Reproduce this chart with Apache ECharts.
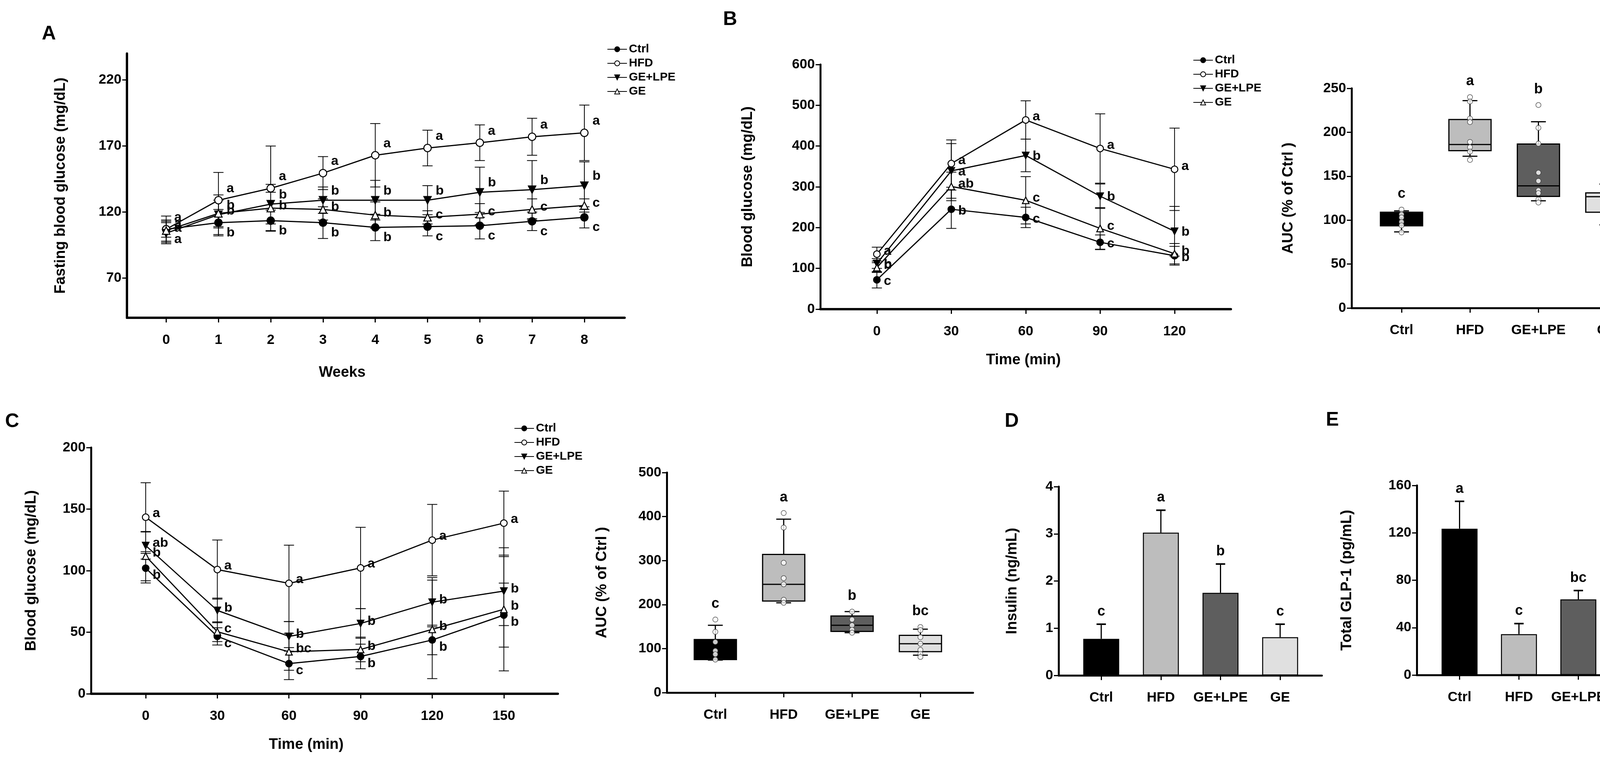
<!DOCTYPE html>
<html><head><meta charset="utf-8">
<script src="https://cdn.jsdelivr.net/npm/echarts@6/dist/echarts.min.js"></script>
<style>html,body{margin:0;padding:0;background:#fff}#c{width:4321px;height:1947px}</style>
</head><body><div id="c"></div>
<script>
// ---------- DATA ----------
const groups = ['Ctrl','HFD','GE+LPE','GE'];
// Panel A: fasting blood glucose by week
const weeks = [0,1,2,3,4,5,6,7,8];
const A_ctrl  = [107,112,113.5,112,108.4,109,109.7,113,116];
const A_ctrlE = [6,10,8,12,10,7,10,7,8];
const A_hfd   = [107,129,138,149.5,163,168.5,172.5,177,180];
const A_hfdE  = [10,21,32,12.5,24,13.5,13.5,14,21];
const A_gelpe = [104,118,126,129,129,129,135,137,140];
const A_gelpeE= [8,15,15,10,15,11,19,22,18];
const A_ge    = [106,119,123,122,117.7,116,118.4,122,125];
const A_geE   = [8,10,12,8,10,5,8,8,5];
const A_ctrlL = ['a','b','b','b','b','c','c','c','c'];
const A_hfdL  = ['a','a','a','a','a','a','a','a','a'];
const A_gelpeL= ['a','b','b','b','b','b','b','b','b'];
const A_geL   = ['a','b','b','b','b','c','c','c','c'];
const A_yTicks = [70,120,170,220];
// Panel B: OGTT
const B_time = [0,30,60,90,120];
const B_ctrl  = [72,245,225,164,131];
const B_ctrlE = [20,47,25,18,23];
const B_hfd   = [135,357,464,394,343];
const B_hfdE  = [17,58,47,85,101];
const B_gelpe = [112,339,377,277,191];
const B_gelpeE= [12,67,40,30,61];
const B_ge    = [102,301,267,198,136];
const B_geE   = [12,35,58,51,25];
const B_ctrlL = ['c','b','c','c','b'];
const B_hfdL  = ['a','a','a','a','a'];
const B_gelpeL= ['b','a','b','b','b'];
const B_geL   = ['b','ab','c','c','b'];
// Panel B AUC box plot
const B_q1  = [93.5,179,127,109];
const B_med = [100,186,139,126.7];
const B_q3  = [109,214.5,186.6,131];
const B_lo  = [86.6,172.7,122,94.6];
const B_hi  = [110.5,236,212,141];
const B_pts = [[112,106.5,103,98,94,86],[240,235,215.6,211.6,189,183,178,168.5],[231,205,187,154,144.6,134,130.7,123.6,120],[146.6,136.6,131.5,123.6,109,102.6,87]];
const B_boxL = ['c','a','b','c'];
// Panel C: ITT
const C_time = [0,30,60,90,120,150];
const C_ctrl  = [102,46.6,24.5,30.3,43.7,63.9];
const C_ctrlE = [12,7,13,10,12,26];
const C_hfd   = [143.4,100.9,89.7,102.2,124.8,138.6];
const C_hfdE  = [28,24,31,33,29,26];
const C_gelpe = [120.4,67.7,46.6,57.1,74.4,83.4];
const C_gelpeE= [11,10,12,12,20,28];
const C_ge    = [111.8,50.4,34.1,36,52.3,68.6];
const C_geE   = [20,8,15,10,40,50];
const C_ctrlL = ['b','c','c','b','b','b'];
const C_hfdL  = ['a','a','a','a','a','a'];
const C_gelpeL= ['ab','b','b','b','b','b'];
const C_geL   = ['b','c','bc','b','b','b'];
// Panel C AUC box plot
const C_q1  = [75,208,139,93];
const C_med = [100,246,153,111];
const C_q3  = [120.6,314,174,130];
const C_lo  = [74,204,136,85];
const C_hi  = [153,394,184,144];
const C_pts = [[166,138,115,95,87,75],[408,375,295,260,246,211,204],[184,166,153,143,136],[149,142,126,111,97,88,81]];
const C_boxL = ['c','a','b','bc'];
// Panel D: insulin
const D_val = [0.775,3.025,1.75,0.81];
const D_err = [0.31,0.475,0.61,0.275];
const D_L = ['c','a','b','c'];
// Panel E: total GLP-1
const E_val = [123.5,34.5,63.8,85.7];
const E_err = [23.1,8.9,7.5,30.3];
const E_L = ['a','c','bc','ab'];

// ---------- STYLE ----------
const FONT = "'Liberation Sans', Arial, sans-serif";
const fillColors = ['#000000','#bdbdbd','#5e5e5e','#e0e0e0'];
const lineStyles = {
  'Ctrl':   {symbol:'circle', fill:'#000', rot:0},
  'HFD':    {symbol:'circle', fill:'#fff', rot:0},
  'GE+LPE': {symbol:'triangle', fill:'#000', rot:180},
  'GE':     {symbol:'triangle', fill:'#fff', rot:0}
};
const grids = [
  {left:325, right:2722, top:137, bottom:1134},   // 0 A
  {left:2100, right:1170, top:165, bottom:1156},  // 1 B line
  {left:3460, right:76, top:226, bottom:1159},    // 2 B box
  {left:233, right:2893, top:1145, bottom:172},   // 3 C line
  {left:1707, right:1830, top:1209, bottom:175},  // 4 C box
  {left:2710, right:937, top:1245, bottom:219},   // 5 D
  {left:3627, right:22, top:1242, bottom:220}     // 6 E
].map(g=>Object.assign(g,{containLabel:false, outerBoundsMode:'none'}));
function axisBase(lw){
  return {
    axisLine:{show:true, onZero:false, lineStyle:{color:'#000', width:lw}},
    axisTick:{show:true, inside:false, length:12, lineStyle:{color:'#000', width:3}},
    splitLine:{show:false},
    axisLabel:{color:'#000', fontFamily:FONT, fontWeight:'bold', fontSize:35, margin:14}
  };
}
function xAx(gi, min, max, ticks, fmt, lw){
  const a = axisBase(lw);
  a.gridIndex = gi; a.type='value'; a.min=min; a.max=max;
  a.axisTick.customValues = ticks;
  a.axisLabel.customValues = ticks;
  a.axisLabel.margin = 40;
  if (fmt) a.axisLabel.formatter = fmt;
  return a;
}
function yAx(gi, min, max, ticks, name, gap, lw){
  const a = axisBase(lw);
  a.gridIndex = gi; a.type='value'; a.min=min; a.max=max;
  a.axisTick.customValues = ticks;
  a.axisLabel.customValues = ticks;
  a.name = name; a.nameLocation='middle'; a.nameGap=gap; a.nameRotate=90;
  a.nameTextStyle = {color:'#000', fontFamily:FONT, fontWeight:'bold', fontSize:38};
  return a;
}
function range(a,b,s){const r=[];for(let v=a;v<=b+1e-9;v+=s)r.push(v);return r;}
const catFmt = v => groups[Math.round(v)];

const xAxes = [
  xAx(0,-0.75,8.77,weeks,null,6),
  xAx(1,-22.8,142.7,B_time,null,6),
  xAx(2,-0.73,3.75,[0,1,2,3],catFmt,5),
  xAx(3,-22.9,172.6,C_time,null,6),
  xAx(4,-0.71,3.77,[0,1,2,3],catFmt,5),
  xAx(5,-0.715,3.70,[0,1,2,3],catFmt,5),
  xAx(6,-0.72,3.70,[0,1,2,3],catFmt,5)
];
const yAxes = [
  yAx(0,40,240,A_yTicks,'Fasting blood glucose (mg/dL)',150,6),
  yAx(1,0,600,range(0,600,100),'Blood glucose (mg/dL)',166,5),
  yAx(2,0,250,range(0,250,50),'AUC (% of Ctrl )',142,5),
  yAx(3,0,200,range(0,200,50),'Blood glucose (mg/dL)',133,5),
  yAx(4,0,500,range(0,500,100),'AUC (% of Ctrl )',146,5),
  yAx(5,0,4,range(0,4,1),'Insulin (ng/mL)',99,5),
  yAx(6,0,160,range(0,160,40),'Total GLP-1 (pg/mL)',159,5)
];

const series = [];
const letterFont = {color:'#000', fontFamily:FONT, fontWeight:'bold', fontSize:34};

function errSeries(ai, xs, vals, errs, up){
  series.push({
    type:'custom', xAxisIndex:ai, yAxisIndex:ai, z:2, silent:true,
    data: xs.map((x,i)=>[x, vals[i], errs[i]]),
    renderItem:(p, api)=>{
      const x=api.value(0), v=api.value(1), e=api.value(2);
      const top=api.coord([x, v+e]), bot=api.coord(up?[x,v]:[x, v-e]);
      const cw=13;
      const st={stroke:'#000', lineWidth:2};
      return {type:'group', children:[
        {type:'line', shape:{x1:top[0],y1:top[1],x2:bot[0],y2:bot[1]}, style:st},
        {type:'line', shape:{x1:top[0]-cw,y1:top[1],x2:top[0]+cw,y2:top[1]}, style:st},
        {type:'line', shape:{x1:bot[0]-cw,y1:bot[1],x2:bot[0]+cw,y2:bot[1]}, style:st}
      ]};
    }
  });
}
function lineSeries(ai, name, xs, vals, errs, letters, off, size){
  const s = lineStyles[name];
  errSeries(ai, xs, vals, errs, false);
  series.push({
    type:'line', name:name, xAxisIndex:ai, yAxisIndex:ai, z:3,
    data: xs.map((x,i)=>[x, vals[i]]),
    symbol:s.symbol, symbolRotate:s.rot, symbolSize:size,
    lineStyle:{color:'#000', width:3},
    itemStyle:{color:s.fill, borderColor:'#000', borderWidth:2.5},
    label:{show:true, position:'right', distance:6, offset:off,
      formatter:p=>letters[p.dataIndex], ...letterFont},
    emphasis:{disabled:true}, animation:false
  });
}
// A
lineSeries(0,'Ctrl',weeks,A_ctrl,A_ctrlE,A_ctrlL,[4,26],19);
lineSeries(0,'HFD',weeks,A_hfd,A_hfdE,A_hfdL,[4,-30],19);
lineSeries(0,'GE+LPE',weeks,A_gelpe,A_gelpeE,A_gelpeL,[4,-24],19);
lineSeries(0,'GE',weeks,A_ge,A_geE,A_geL,[4,-6],19);
// B
lineSeries(1,'Ctrl',B_time,B_ctrl,B_ctrlE,B_ctrlL,[2,4],17);
lineSeries(1,'HFD',B_time,B_hfd,B_hfdE,B_hfdL,[2,-8],17);
lineSeries(1,'GE+LPE',B_time,B_gelpe,B_gelpeE,B_gelpeL,[2,2],17);
lineSeries(1,'GE',B_time,B_ge,B_geE,B_geL,[2,-6],17);
// C
lineSeries(3,'Ctrl',C_time,C_ctrl,C_ctrlE,C_ctrlL,[2,18],17);
lineSeries(3,'HFD',C_time,C_hfd,C_hfdE,C_hfdL,[2,-10],17);
lineSeries(3,'GE+LPE',C_time,C_gelpe,C_gelpeE,C_gelpeL,[2,-6],17);
lineSeries(3,'GE',C_time,C_ge,C_geE,C_geL,[2,-8],17);

function boxSeries(ai, q1, med, q3, lo, hi, pts, letters){
  series.push({
    type:'custom', xAxisIndex:ai, yAxisIndex:ai, z:2, silent:true,
    data: groups.map((g,i)=>[i, med[i]]),
    renderItem:(p, api)=>{
      const i=api.value(0);
      const X=api.coord([i,0])[0];
      const Y=v=>api.coord([i,v])[1];
      const w=54, cw=19;
      const st={stroke:'#000', lineWidth:3};
      const topPt=Math.max(hi[i], ...pts[i]);
      return {type:'group', children:[
        {type:'line', shape:{x1:X,y1:Y(hi[i]),x2:X,y2:Y(q3[i])}, style:st},
        {type:'line', shape:{x1:X,y1:Y(lo[i]),x2:X,y2:Y(q1[i])}, style:st},
        {type:'line', shape:{x1:X-cw,y1:Y(hi[i]),x2:X+cw,y2:Y(hi[i])}, style:st},
        {type:'line', shape:{x1:X-cw,y1:Y(lo[i]),x2:X+cw,y2:Y(lo[i])}, style:st},
        {type:'rect', shape:{x:X-w, y:Y(q3[i]), width:2*w, height:Y(q1[i])-Y(q3[i])}, style:{fill:fillColors[i], stroke:'#000', lineWidth:3}},
        {type:'line', shape:{x1:X-w,y1:Y(med[i]),x2:X+w,y2:Y(med[i])}, style:st},
        {type:'text', x:X, y:Y(topPt)-40, style:{text:letters[i], fill:'#000', font:'bold 36px '+FONT, align:'center', verticalAlign:'middle'}}
      ]};
    }
  });
  const data=[];
  pts.forEach((arr,i)=>arr.forEach(v=>data.push([i,v])));
  series.push({type:'scatter', xAxisIndex:ai, yAxisIndex:ai, z:4, data:data, symbolSize:13,
    itemStyle:{color:'#fff', borderColor:'#333', borderWidth:1.5}, silent:true, animation:false});
}
boxSeries(2,B_q1,B_med,B_q3,B_lo,B_hi,B_pts,B_boxL);
boxSeries(4,C_q1,C_med,C_q3,C_lo,C_hi,C_pts,C_boxL);

function barSeries(ai, vals, errs, letters){
  series.push({type:'bar', xAxisIndex:ai, yAxisIndex:ai, z:2, barWidth:92, silent:true,
    data: vals.map((v,i)=>({value:[i,v], itemStyle:{color:fillColors[i], borderColor:'#000', borderWidth:2.5}})),
    animation:false});
  series.push({
    type:'custom', xAxisIndex:ai, yAxisIndex:ai, z:1, silent:true,
    data: vals.map((v,i)=>[i, v, errs[i]]),
    renderItem:(p, api)=>{
      const i=api.value(0), v=api.value(1), e=api.value(2);
      const top=api.coord([i, v+e]), bot=api.coord([i,v]);
      const st={stroke:'#000', lineWidth:3};
      return {type:'group', children:[
        {type:'line', shape:{x1:top[0],y1:top[1],x2:bot[0],y2:bot[1]}, style:st},
        {type:'line', shape:{x1:top[0]-12,y1:top[1],x2:top[0]+12,y2:top[1]}, style:{stroke:'#000', lineWidth:4}},
        {type:'text', x:top[0], y:top[1]-32, style:{text:letters[i], fill:'#000', font:'bold 36px '+FONT, align:'center', verticalAlign:'middle'}}
      ]};
    }
  });
}
barSeries(5, D_val, D_err, D_L);
barSeries(6, E_val, E_err, E_L);

function legend(left, top){
  return {left:left, top:top, orient:'vertical', data:groups, itemWidth:50, itemHeight:16, itemGap:6,
    selectedMode:false, textStyle:{color:'#000', fontFamily:FONT, fontWeight:'bold', fontSize:30}};
}
function txt(x,y,t,size,rot){
  return {type:'text', x:x, y:y, rotation:rot||0,
    style:{text:t, fill:'#000', font:'bold '+size+'px '+FONT, align:'center', verticalAlign:'middle'}};
}

const chart = echarts.init(document.getElementById('c'), null, {width:4321, height:1947});
chart.setOption({
  animation:false,
  backgroundColor:'#fff',
  grid: grids,
  xAxis: xAxes,
  yAxis: yAxes,
  legend: [legend(1549,106), legend(3049,134), legend(1311,1076)],
  series: series,
  graphic: [
    txt(125,87,'A',50), txt(1869,50,'B',50), txt(31,1079,'C',50), txt(2590,1078,'D',50), txt(3411,1075,'E',50),
    txt(876,954,'Weeks',38), txt(2620,922,'Time (min)',38), txt(784,1906,'Time (min)',38)
  ]
});
</script></body></html>
